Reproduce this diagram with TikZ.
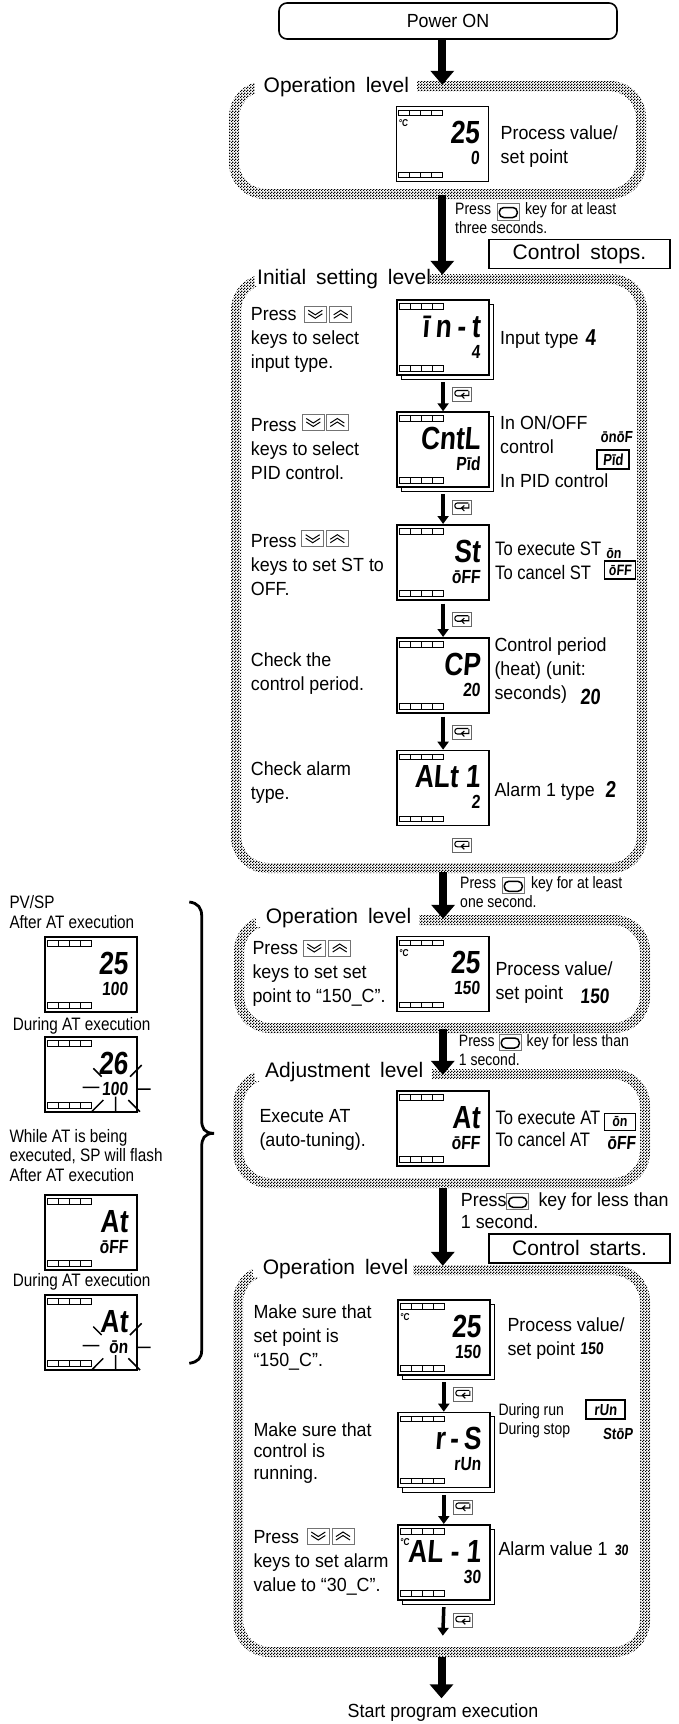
\documentclass[tikz,border=0pt]{standalone}
\usepackage{fontspec}
\usetikzlibrary{arrows.meta,patterns,fit}
\setmainfont{Liberation Sans}
\newfontfamily\bodyfam[FakeStretch=.94]{Liberation Sans}
\newfontfamily\narrowfam[FakeStretch=.85]{Liberation Sans}
\newfontfamily\headfam[WordSpace=1.7]{Liberation Sans}
\newfontfamily\lcdf[FakeStretch=.82,FakeSlant=.08]{Liberation Sans}
\newcommand\ls[1]{\addfontfeature{LetterSpace=#1}}
\pgfdeclarepatternformonly{halftone}{\pgfqpoint{0pt}{0pt}}{\pgfqpoint{3pt}{3pt}}{\pgfqpoint{3pt}{3pt}}{%
  \pgfpathrectangle{\pgfqpoint{0pt}{0pt}}{\pgfqpoint{1.5pt}{1.5pt}}%
  \pgfpathrectangle{\pgfqpoint{1.5pt}{1.5pt}}{\pgfqpoint{1.5pt}{1.5pt}}%
  \pgfusepath{fill}}
\tikzset{
  body/.style={font=\bodyfam\fontsize{19}{24}\selectfont,anchor=base west,align=left,inner sep=0},
  bodytight/.style={font=\bodyfam\fontsize{19}{21.5}\selectfont,anchor=base west,align=left,inner sep=0},
  bodynarrow/.style={font=\narrowfam\fontsize{19.5}{24}\selectfont,anchor=base west,align=left,inner sep=0},
  smalltext/.style={font=\narrowfam\fontsize{16.5}{19}\selectfont,anchor=base west,align=left,inner sep=0},
  sidetext/.style={font=\narrowfam\fontsize{18}{19.5}\selectfont,anchor=base west,align=left,inner sep=0},
  heading/.style={font=\headfam\fontsize{21}{24}\selectfont,anchor=base west,inner sep=0},
  banner/.style={draw,line width=1.5pt,font=\headfam\fontsize{21}{24}\selectfont,minimum width=181pt,minimum height=29pt,inner sep=0},
  lcdval/.style={font=\lcdf\bfseries\fontsize{#1}{#1}\selectfont,inner sep=0},
  lcdscreen/.style={draw,line width=1.6pt,minimum width=92pt,minimum height=75pt,inner sep=0,anchor=north west},
  valbox/.style={draw,line width=1.6pt,inner sep=0},
  bigarrow/.style={line width=8pt,-{Triangle[length=14pt,width=23pt]}},
  miniarrow/.style={line width=3.5pt,-{Triangle[length=8pt,width=11pt]}},
  ray/.style={line width=1.5pt},
  keyframe/.style={draw=black!55,line width=.7pt},
}
% ring: name, x0,y0,x1,y1, gap left, gap right
\newcommand\ring[7]{%
  \path[pattern=halftone,even odd rule,rounded corners=36pt] (#2,#3) rectangle (#4,#5)
     [rounded corners=27pt] (#2+10,#3+10) rectangle (#4-10,#5-10);
  \fill[white] (#6,#3-1) rectangle (#7,#3+12);
  \node[fit={(#2,#3)(#4,#5)},inner sep=0] (#1) {};
}
% lcd: name,x,y,main,sub
\newcommand\lcd[5]{%
  \node[lcdscreen] (#1) at (#2,#3) {};
  \foreach \k in {0,1,2,3}{
    \draw[line width=1pt] (#2+3+\k*11,#3+4.5) rectangle ++(11,5.5);
    \draw[line width=1pt] (#2+3+\k*11,#3+66.5) rectangle ++(11,5.5);
  }
  \node[lcdval=32,anchor=base east] (#1m) at (#2+84,#3+38) {#4};
  \node[lcdval=19,anchor=base east] (#1s) at (#2+84,#3+59) {#5};
}
\newcommand\sheet[2]{\draw[line width=1pt] (#1+92,#2+5) -- (#1+97.5,#2+5) -- (#1+97.5,#2+80.5) -- (#1+5.5,#2+80.5) -- (#1+5.5,#2+75);}
\newcommand\degc[3]{\node[lcdval=10,anchor=base west] (#1) at (#2+3,#3+21) {°C};}
\newcommand\keyoval[2]{\begin{scope}[shift={(#1,#2)}]
  \draw[keyframe] (0,0) rectangle (22,16.5);
  \draw[line width=1.5pt,rounded corners=4.5pt] (2,4) rectangle (20,14);
\end{scope}}
\newcommand\keydown[2]{\begin{scope}[shift={(#1,#2)}]
  \draw[keyframe] (0,0) rectangle (22,16);
  \draw[line width=1pt] (4,4) -- (11,8.5) -- (18,4) (4,7.5) -- (11,12) -- (18,7.5);
\end{scope}}
\newcommand\keyup[2]{\begin{scope}[shift={(#1,#2)}]
  \draw[keyframe] (0,0) rectangle (22,16);
  \draw[line width=1pt] (4,8.5) -- (11,4) -- (18,8.5) (4,12) -- (11,7.5) -- (18,12);
\end{scope}}
\newcommand\keymode[2]{\begin{scope}[shift={(#1,#2)}]
  \draw[line width=.9pt,black!60] (0,0) rectangle (19,14);
  \draw[line width=1.1pt,rounded corners=2.5pt] (16,3) -- (2.5,3) -- (2.5,8.5) -- (9,8.5);
  \draw[line width=1.1pt] (16.5,3.5) -- (16.5,8) -- (9,8) (12,5.5) -- (9,8) -- (12,11);
\end{scope}}
\newcommand\flash[2]{\begin{scope}[shift={(#1,#2)}]
  \draw[ray] (49.3,32.3) -- (57.7,40.7) (97.7,29) -- (86,40.7) (38.7,51.3) -- (55.3,51.3) (93.3,53) -- (106.7,53)
     (47.7,75.7) -- (59.3,64) (71.7,60.7) -- (71.7,75.7) (84.3,64) -- (96,75.7);
\end{scope}}
\begin{document}
\begin{tikzpicture}[x=1pt,y=-1pt]
\useasboundingbox (0,0) rectangle (678,1724);
\fill[white] (0,0) rectangle (678,1724);
% rings
\ring{box1}{229}{81}{646}{199}{255}{417}
\ring{box2}{231}{274}{647}{873}{255}{430}
\ring{box3}{234}{915}{650}{1033}{256}{419}
\ring{box4}{233}{1069}{650}{1188}{255}{432}
\ring{box5}{233}{1265}{650}{1657}{253}{413}
% start and headings
\node[draw,line width=1.6pt,rounded corners=8pt,minimum width=338pt,minimum height=36pt,inner sep=0,font=\bodyfam\fontsize{19}{24}\selectfont] (power) at (448,21) {Power ON\hspace{8pt}};
\node[heading] (h1) at (263.5,92) {Operation level};
\node[heading] (h2) at (257,284) {Initial setting level};
\node[heading] (h3) at (265.7,923.3) {Operation level};
\node[heading] (h4) at (265,1077.3) {Adjustment level};
\node[heading] (h5) at (262.7,1274) {Operation level};
\node[banner] (stops) at (579.5,253.8) {Control stops.};
\node[banner] (starts) at (579.5,1248.3) {Control starts.};
% operation level 1
\lcd{d1}{395.5}{105.7}{25}{0}
\degc{d1c}{395.5}{105.7}
\node[body] (t1) at (500.5,163) {Process value/\\set point};
\node[smalltext] (p1) at (455,233) {Press\hspace{34pt}key for at least\\three seconds.};
\keyoval{497.3}{203.5}
% initial setting
\sheet{396.3}{299.3}
\lcd{d2}{396.3}{299.3}{\ls{18}īn-t}{4}
\node[body] (t2l) at (250.7,368) {Press\\keys to select\\input type.};
\keydown{304.3}{306.3}\keyup{329.7}{306.3}
\node[body] (t2r) at (500,344) {Input type};
\node[lcdval=23,anchor=base west] (v2) at (585,345) {4};
\keymode{452.3}{387.5}
\sheet{396.3}{411.3}
\lcd{d3}{396.3}{411.3}{CntL}{Pīd}
\node[body] (t3l) at (250.7,479) {Press\\keys to select\\PID control.};
\keydown{302.3}{414.5}\keyup{326.3}{414.5}
\node[body] (t3r) at (500,453.3) {In ON/OFF\\control};
\node[body] (t3b) at (500,487.3) {In PID control};
\node[lcdval=16,anchor=base east] (v3a) at (632.5,442.5) {ōnōF};
\node[valbox,lcdval=16,minimum width=32pt,minimum height=19pt] (v3b) at (613,459.5) {Pīd};
\keymode{452.3}{500}
\lcd{d4}{396.3}{524}{St}{ōFF}
\node[body] (t4l) at (250.7,595) {Press\\keys to set ST to\\OFF.};
\keydown{301.7}{530.7}\keyup{326.3}{530.7}
\node[bodynarrow] (t4r) at (495,579.3) {To execute ST\\To cancel ST};
\node[lcdval=15,anchor=base west] (v4a) at (606,558.5) {ōn};
\node[valbox,lcdval=15,minimum width=31pt,minimum height=18pt] (v4b) at (620,570) {ōFF};
\keymode{452.3}{612.7}
\lcd{d5}{396.3}{637}{CP}{20}
\node[body] (t5l) at (250.7,690) {Check the\\control period.};
\node[body] (t5r) at (494.3,699.3) {Control period\\(heat) (unit:\\seconds)};
\node[lcdval=22,anchor=base west] (v5) at (580,704) {20};
\keymode{452.3}{725.5}
\lcd{d6}{396.3}{749.7}{ALt 1}{2}
\node[body] (t6l) at (250.7,799) {Check alarm\\type.};
\node[body] (t6r) at (494.3,796) {Alarm 1 type};
\node[lcdval=23,anchor=base west] (v6) at (605,797.5) {2};
\keymode{452.3}{838.3}
\node[smalltext] (p2) at (460,907.7) {Press\hspace{35pt}key for at least\\one second.};
\keyoval{502.3}{877.3}
% operation level 2
\lcd{d7}{396}{935.5}{25}{150}
\degc{d7c}{396}{935.5}
\node[body] (t7l) at (252.3,1002.7) {Press\\keys to set set\\point to “150\_C”.};
\keydown{303.3}{940}\keyup{328.7}{940}
\node[body] (t7r) at (495.3,999) {Process value/\\set point};
\node[lcdval=21,anchor=base west] (v7) at (580,1003.5) {150};
\node[smalltext] (p3) at (458.7,1065) {Press\hspace{32pt}key for less than\\1 second.};
\keyoval{499.3}{1034}
% adjustment level
\lcd{d8}{396}{1090}{At}{ōFF}
\node[body] (t8l) at (259.3,1146) {Execute AT\\(auto-tuning).};
\node[bodynarrow,font=\narrowfam\fontsize{19.5}{21.5}\selectfont] (t8r) at (495.3,1146) {To execute AT\\To cancel AT};
\node[valbox,lcdval=15,minimum width=31pt,minimum height=17pt,line width=1.2pt] (v8a) at (619.7,1121.7) {ōn};
\node[lcdval=19,anchor=base west] (v8b) at (607,1149.5) {ōFF};
\node[bodytight] (p4) at (460.7,1228.3) {Press\hspace{32pt}key for less than\\1 second.};
\keyoval{506.7}{1193.3}
% operation level 3
\sheet{397}{1299.3}
\lcd{d9}{397}{1299.3}{25}{150}
\degc{d9c}{397}{1299.3}
\node[body] (t9l) at (253.3,1366.7) {Make sure that\\set point is\\“150\_C”.};
\node[body] (t9r) at (507.3,1355) {Process value/\\set point};
\node[lcdval=17,anchor=base west] (v9) at (580,1354.5) {150};
\keymode{453.3}{1387.3}
\sheet{397}{1411.7}
\lcd{d10}{397}{1411.7}{\ls{15}r-S}{rUn}
\node[bodytight] (t10l) at (253.3,1479) {Make sure that\\control is\\running.};
\node[smalltext] (t10r) at (498.3,1434.3) {During run\\During stop};
\node[valbox,lcdval=16,minimum width=39pt,minimum height=19pt] (v10a) at (605.5,1409.7) {rUn};
\node[lcdval=16,anchor=base east] (v10b) at (633,1439.3) {StōP};
\keymode{453.3}{1500}
\sheet{397}{1524}
\lcd{d11}{397}{1524}{AL - 1}{30}
\degc{d11c}{397}{1524}
\node[body] (t11l) at (253.3,1591) {Press\\keys to set alarm\\value to “30\_C”.};
\keydown{307.3}{1528}\keyup{332}{1528}
\node[body] (t11r) at (498.3,1555.7) {Alarm value 1};
\node[lcdval=15,anchor=base west] (v11) at (614.3,1555.3) {30};
\keymode{453.3}{1613.3}
\coordinate (e11) at (442.8,1635.7);
\node[body,anchor=base] (endtext) at (443,1717.3) {Start program execution};
\coordinate (e12) at (441.5,1698.3);
% connectors
\draw[bigarrow] (d1.north |- power.south) -- ([yshift=-4pt]d1.north |- box1.north);
\draw[bigarrow] ([yshift=4pt]d1.north |- box1.south) -- ([yshift=-1pt]d1.north |- box2.north);
\draw[bigarrow] ([yshift=1pt]d6.south |- box2.south) -- ([yshift=-4pt]d6.south |- box3.north);
\draw[bigarrow] ([yshift=4pt]d7.south |- box3.south) -- ([yshift=-6pt]d7.south |- box4.north);
\draw[bigarrow] (d8.south |- box4.south) -- ([yshift=-1pt]d8.south |- box5.north);
\draw[bigarrow] (e12 |- box5.south) -- (e12);
\draw[miniarrow] ([yshift=-6.5pt]d2.south) -- (d3.north);
\draw[miniarrow] ([yshift=-6.5pt]d3.south) -- (d4.north);
\draw[miniarrow] ([yshift=-3pt]d4.south) -- (d5.north);
\draw[miniarrow] ([yshift=-3pt]d5.south) -- (d6.north);
\draw[miniarrow] ([yshift=-6.5pt]d9.south) -- (d10.north);
\draw[miniarrow] ([yshift=-6.5pt]d10.south) -- (d11.north);
\draw[miniarrow] ([yshift=-6.5pt]d11.south) -- (e11);
% left column
\node[sidetext] (s1) at (9.3,928.3) {PV/SP\\After AT execution};
\lcd{a}{44}{936}{25}{100}
\node[sidetext] (s2) at (12.7,1030) {During AT execution};
\lcd{b}{44}{1036}{26}{100}
\flash{44}{1036}
\node[sidetext] (s3) at (9.3,1181) {While AT is being\\executed, SP will flash\\After AT execution};
\lcd{c}{44}{1194.3}{At}{ōFF}
\node[sidetext] (s4) at (12.7,1286) {During AT execution};
\lcd{e}{44}{1294.3}{At}{ōn}
\flash{44}{1294.3}
\draw[line width=2.8pt] (189.3,902) .. controls (198,903) and (201.7,908) .. (201.7,916) -- (201.7,1120)
  .. controls (201.7,1128) and (204,1133.3) .. (214,1133.3) .. controls (204,1133.3) and (201.7,1139) .. (201.7,1147)
  -- (201.7,1350) .. controls (201.7,1358) and (198,1362) .. (189.3,1363.3);
\end{tikzpicture}
\end{document}
